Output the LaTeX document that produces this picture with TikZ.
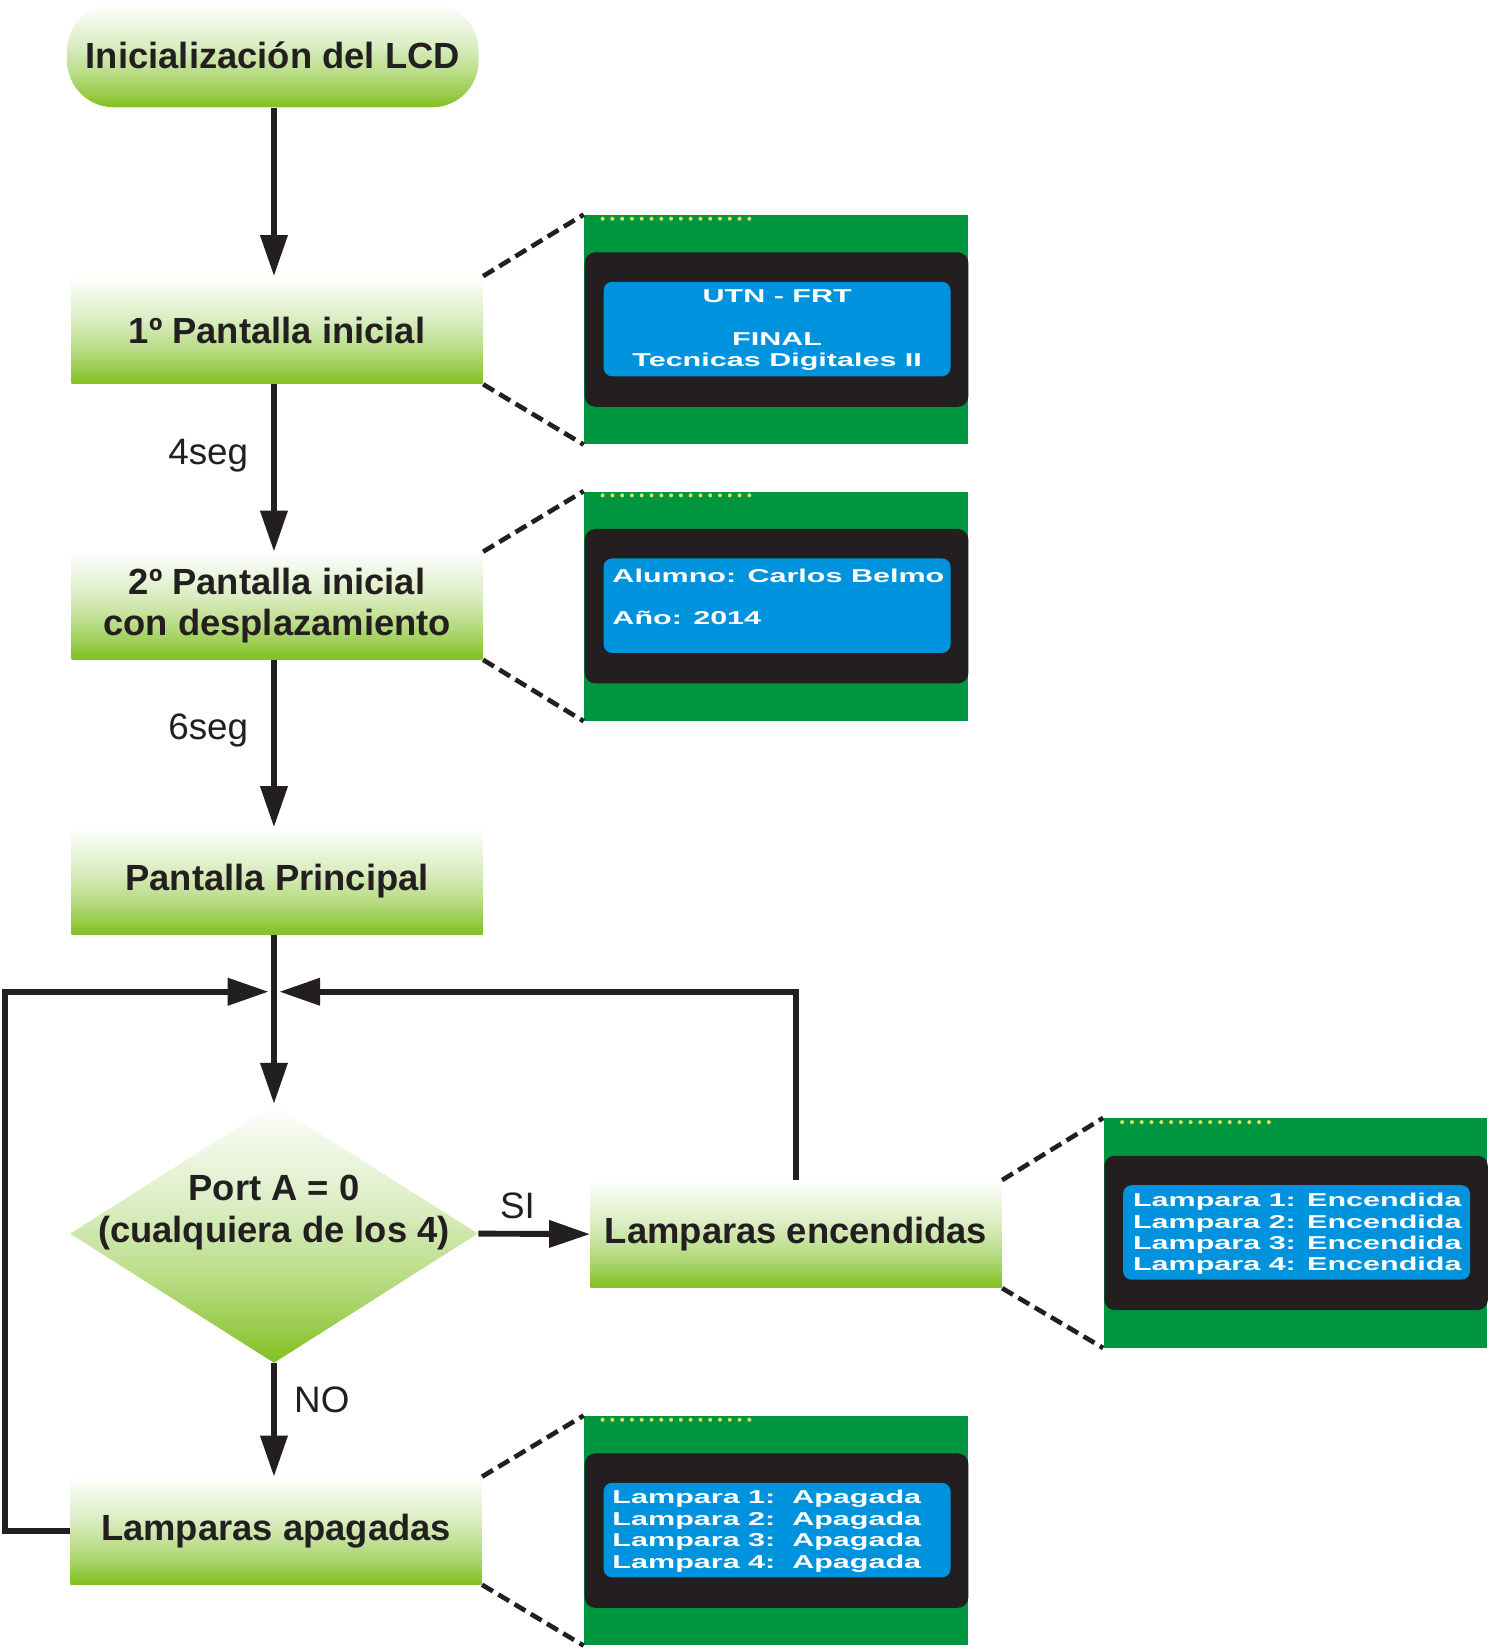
\documentclass[tikz,border=0pt]{standalone}
\usepackage{fontspec}
\setmainfont{Liberation Sans}
\newfontfamily\lcdfont[FakeStretch=1.64]{Liberation Sans}
\usetikzlibrary{arrows.meta,shapes.geometric,calc}
\definecolor{ink}{HTML}{231F20}
\definecolor{gBot}{HTML}{82C024}
\definecolor{gBotB}{HTML}{88C32C}
\definecolor{gLow}{HTML}{9ACC4E}
\definecolor{gMid}{HTML}{BADD88}
\definecolor{gLight}{HTML}{DAEDC2}
\definecolor{gPale}{HTML}{F1F8E8}
\definecolor{gTop}{HTML}{FFFFFF}
\definecolor{boardgreen}{HTML}{00953F}
\definecolor{lcdblack}{HTML}{231F20}
\definecolor{lcdblue}{HTML}{0093DD}
\definecolor{lcddot}{HTML}{DDE35A}
\pgfdeclareverticalshading{gshade}{100bp}{color(0bp)=(gBot); color(25bp)=(gBot); color(27bp)=(gBotB); color(32bp)=(gLow); color(42bp)=(gMid); color(55bp)=(gLight); color(68bp)=(gPale); color(75bp)=(gTop); color(100bp)=(gTop)}
\tikzset{
  procbox/.style={rectangle, shading=gshade, draw=none, minimum width=195.5pt, minimum height=51pt, inner sep=0pt, align=center, text=ink, font=\bfseries\fontsize{17.3}{19.5}\selectfont},
  termbox/.style={procbox, rounded corners=22pt, minimum height=49pt},
  decision/.style={diamond, shading=gshade, draw=none, minimum width=194pt, minimum height=123pt, inner sep=0pt},
  boxtext/.style={align=center, text=ink, inner sep=0pt, font=\bfseries\fontsize{17.3}{19.5}\selectfont},
  lbl/.style={text=ink, inner sep=0pt, font=\fontsize{17.5}{20}\selectfont},
  flow/.style={draw=ink, line width=2.8pt, -{Triangle[length=19.5pt,width=12.5pt]}},
  loopline/.style={draw=ink, line width=3pt, -{Triangle[length=19.5pt,width=12.5pt]}},
  zoomline/.style={draw=ink, line width=2.2pt, dash pattern=on 6pt off 3pt},
  board/.style={rectangle, fill=boardgreen, draw=none, minimum width=182.5pt, minimum height=109pt, inner sep=0pt},
  lcdtext/.style={text=white, inner sep=0pt, font=\lcdfont\bfseries\fontsize{8.85}{10.15}\selectfont},
}
\newcommand\lcdpanel[3]{%
  \node[board, anchor=north west] (#1) at (#2,#3) {};
  \fill[lcdblack, rounded corners=5pt] ($(#1.north west)+(1,36)$) rectangle ($(#1.south east)+(0,-36)$);
  \fill[lcdblue, rounded corners=4pt] ($(#1.north west)+(19,64)$) rectangle ($(#1.south east)+(-17,-65)$);
  \foreach \i in {0,...,15} \fill[lcddot] ($(#1.north west)+(18+9.3*\i,4)$) circle (0.95pt);
}
\begin{document}
\begin{tikzpicture}[x=0.5pt,y=-0.5pt]
\useasboundingbox (0,0) rectangle (1416,1568);

% flow boxes
\node[termbox] (term) at (259.5,53) {Inicialización del LCD};
\node[procbox] (box1) at (263.5,314) {1º Pantalla inicial};
\node[procbox] (box2) at (263.5,576) {2º Pantalla inicial\\con desplazamiento};
\node[procbox] (box3) at (263.5,838) {Pantalla Principal};
\node[decision] (dec) at (260.5,1173) {};
\node[boxtext] (dectext) at (260.5,1153) {Port A = 0\\(cualquiera de los 4)};
\node[procbox] (enc) at (757,1173.5) {Lamparas encendidas};
\node[procbox] (apag) at (262.5,1455.5) {Lamparas apagadas};
\coordinate (col) at (260.5,0);
\coordinate (m) at (260.5,943);

% labels
\node[lbl] (l4) at (198,433) {4seg};
\node[lbl] (l6) at (198,695) {6seg};
\node[lbl] (lsi) at (492,1147) {SI};
\node[lbl] (lno) at (306,1331) {NO};

% connectors
\draw[flow] (col |- term.south) -- (col |- box1.north);
\draw[flow] (col |- box1.south) -- (col |- box2.north);
\draw[flow] (col |- box2.south) -- (col |- box3.north);
\draw[flow] (col |- box3.south) -- (dec.north);
\draw[flow] (dec.east) -- (enc.west);
\draw[flow] (dec.south) -- (col |- apag.north);
\draw[loopline] (apag.west) -- ++(-62,0) |- ([xshift=-2.5pt]m);
\draw[loopline] (enc.north) |- ([xshift=2.5pt]m);

% LCD panels
\lcdpanel{lcd1}{555}{204}
\lcdpanel{lcd2}{555}{467}
\lcdpanel{lcd3}{1049}{1063}
\lcdpanel{lcd4}{555}{1346}

\node[lcdtext, align=center] (t1) at (739,314) {UTN - FRT\\[10.15pt]FINAL\\Tecnicas Digitales II};
\node[lcdtext, align=left, anchor=west] (t2) at (582,567.5) {Alumno: Carlos Belmo\\[10.15pt]Año: 2014};
\node[lcdtext, align=left, anchor=west] (t3) at (1077,1173.5) {Lampara 1: Encendida\\Lampara 2: Encendida\\Lampara 3: Encendida\\Lampara 4: Encendida};
\node[lcdtext, align=left, anchor=west] (t4) at (582,1456) {Lampara 1:~~Apagada\\Lampara 2:~~Apagada\\Lampara 3:~~Apagada\\Lampara 4:~~Apagada};

% zoom lines
\draw[zoomline] (box1.north east) -- (lcd1.north west);
\draw[zoomline] (box1.south east) -- (lcd1.south west);
\draw[zoomline] (box2.north east) -- (lcd2.north west);
\draw[zoomline] (box2.south east) -- (lcd2.south west);
\draw[zoomline] (enc.north east) -- (lcd3.north west);
\draw[zoomline] (enc.south east) -- (lcd3.south west);
\draw[zoomline] (apag.north east) -- (lcd4.north west);
\draw[zoomline] (apag.south east) -- (lcd4.south west);
\end{tikzpicture}
\end{document}
